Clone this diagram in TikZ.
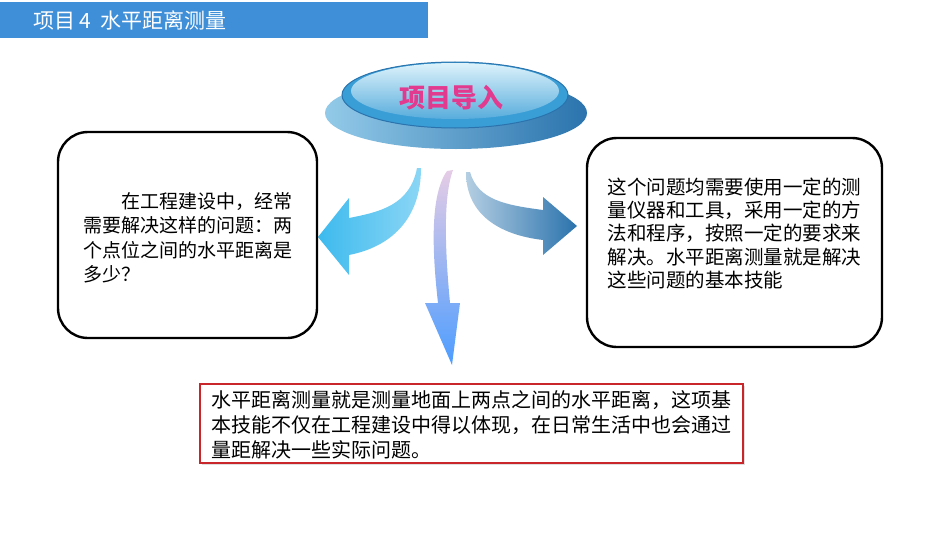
\documentclass[tikz,border=0pt]{standalone}
\usepackage{fontspec}
\usepackage{xcolor}
\usepackage{tikz}
\usetikzlibrary{shadows}
\setmainfont{Noto Sans CJK SC}

\definecolor{headblue}{HTML}{3F8FD8}
\definecolor{boxred}{HTML}{C8262B}
\definecolor{titlepink}{HTML}{E23A8E}
\definecolor{diskdark}{HTML}{2A73AD}
\definecolor{diskmid}{HTML}{3A9ED6}
\definecolor{disklight}{HTML}{DDF2FB}
\definecolor{leftblue}{HTML}{3DBAEE}
\definecolor{leftlight}{HTML}{8BD6F5}

\tikzset{
  qbox/.style={draw=black, line width=2.4pt, rounded corners=30pt, inner sep=0pt},
  redbox/.style={draw=boxred, fill=white, line width=2.2pt, inner sep=0pt,
    drop shadow={opacity=0.25, shadow xshift=1.5pt, shadow yshift=-1.5pt}},
  qtext/.style={inner sep=0pt, align=left, text=black},
}

\begin{document}
\begin{tikzpicture}[x=1pt,y=-1pt]
			\useasboundingbox (0,0) rectangle (950,535);
			% header
			\fill [headblue] (0,2) rectangle (428,38);
			\node [anchor=west, inner sep=0pt, text=white, font=\fontsize{21}{25}\selectfont] (head) at (33,20) {项目 4\ \ 水平距离测量};
			% disk
			\shade [left color=diskmid!55, right color=diskdark] (456,113) ellipse [x radius=131, y radius=36];
			\draw [diskdark, line width=1pt, fill=diskmid] (455,95) ellipse [x radius=113, y radius=33];
			\shade [shading angle=60, top color=disklight, bottom color=diskmid!85] (455,91) ellipse [x radius=104, y radius=28];
			\node [font=\fontsize{26}{30}\selectfont\bfseries, text=titlepink] (intro) at (451,98) {项目导入};
			% arrows
			\shade [left color=leftblue, right color=leftlight] (417,168) .. controls (410,205) and (380,212) .. (349,218) -- (349,198) -- (318,237) -- (349,275) -- (349,255) .. controls (390,247) and (421,220) .. (421,168) -- cycle;
			\shade [top color=violet!20, bottom color=blue!55!cyan!70] (453,170) .. controls (442,200) and (446,260) .. (450,303) -- (460,303) -- (452,365) -- (425,303) -- (438,303) .. controls (432,250) and (430,195) .. (447,171) -- cycle;
			\shade [left color=diskdark!35, right color=diskdark] (470,172) .. controls (478,200) and (505,205) .. (543,210) -- (543,197) -- (577,226) -- (543,255) -- (543,240) .. controls (500,235) and (466,215) .. (466,172) -- cycle;
			% boxes
			\node [qbox, minimum width=259pt, minimum height=206pt] (leftbox) at (187.5,235) {};
			\node [qtext, font=\fontsize{19}{24.5}\selectfont] (lefttext) at (leftbox.center) [yshift=-3pt] {\hspace*{2em}在工程建设中，经常\\需要解决这样的问题：两\\个点位之间的水平距离是\\多少？\hspace*{7em}};
			\node [qbox, minimum width=295pt, minimum height=209pt] (rightbox) at (734.5,242.5) {};
			\node [qtext, font=\fontsize{19.5}{23.3}\selectfont] (righttext) at (rightbox.center) [yshift=9pt] {这个问题均需要使用一定的测\\量仪器和工具，采用一定的方\\法和程序，按照一定的要求来\\解决。水平距离测量就是解决\\这些问题的基本技能};
			\node [redbox, minimum width=543pt, minimum height=79pt] (bottombox) at (471.5,423.5) {};
			\node [qtext, font=\fontsize{20}{25}\selectfont] (bottomtext) at (bottombox.center) [yshift=-1.5pt] {水平距离测量就是测量地面上两点之间的水平距离，这项基\\本技能不仅在工程建设中得以体现，在日常生活中也会通过\\量距解决一些实际问题。};
		\end{tikzpicture}
\end{document}
